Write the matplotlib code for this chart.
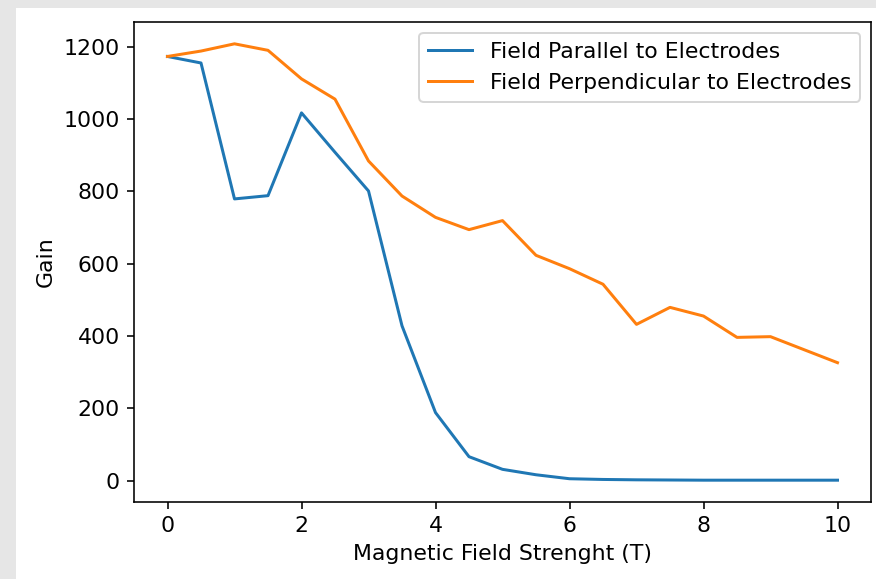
import matplotlib
matplotlib.use('Agg')
import matplotlib.pyplot as plt
from matplotlib.patches import Rectangle

field = [0, 0.5, 1, 1.5, 2, 2.5, 3, 3.5, 4, 4.5, 5, 5.5, 6, 6.5, 7, 7.5, 8, 8.5, 9, 9.5, 10]
gain_parallel = [1173, 1155, 779, 788, 1017, 908, 801, 428, 188, 66, 31, 16, 5, 3, 2, 1.5, 1, 1, 1, 1, 1]
gain_perpendicular = [1173, 1188, 1208, 1190, 1111, 1055, 884, 787, 728, 694, 719, 623, 586, 543, 432, 479, 455, 396, 398, 362, 326]

plt.rcParams['font.size'] = 11

W, H, DPI = 876, 579, 144
fig = plt.figure(figsize=(W / DPI, H / DPI), dpi=DPI, facecolor='#e6e6e6')
# white notebook output area inside the grey frame
fig.patches.append(Rectangle((16 / W, 0), 1 - 16 / W, (H - 8) / H,
                             transform=fig.transFigure, facecolor='white',
                             edgecolor='none', zorder=-1))

ax = fig.add_axes([134 / W, (H - 502) / H, (871 - 134) / W, (502 - 22) / H])
ax.plot(field, gain_parallel, label='Field Parallel to Electrodes')
ax.plot(field, gain_perpendicular, label='Field Perpendicular to Electrodes')
ax.set_xlabel('Magnetic Field Strenght (T)')
ax.set_ylabel('Gain')
ax.legend()

fig.savefig('out.png', dpi=DPI, facecolor=fig.get_facecolor())
